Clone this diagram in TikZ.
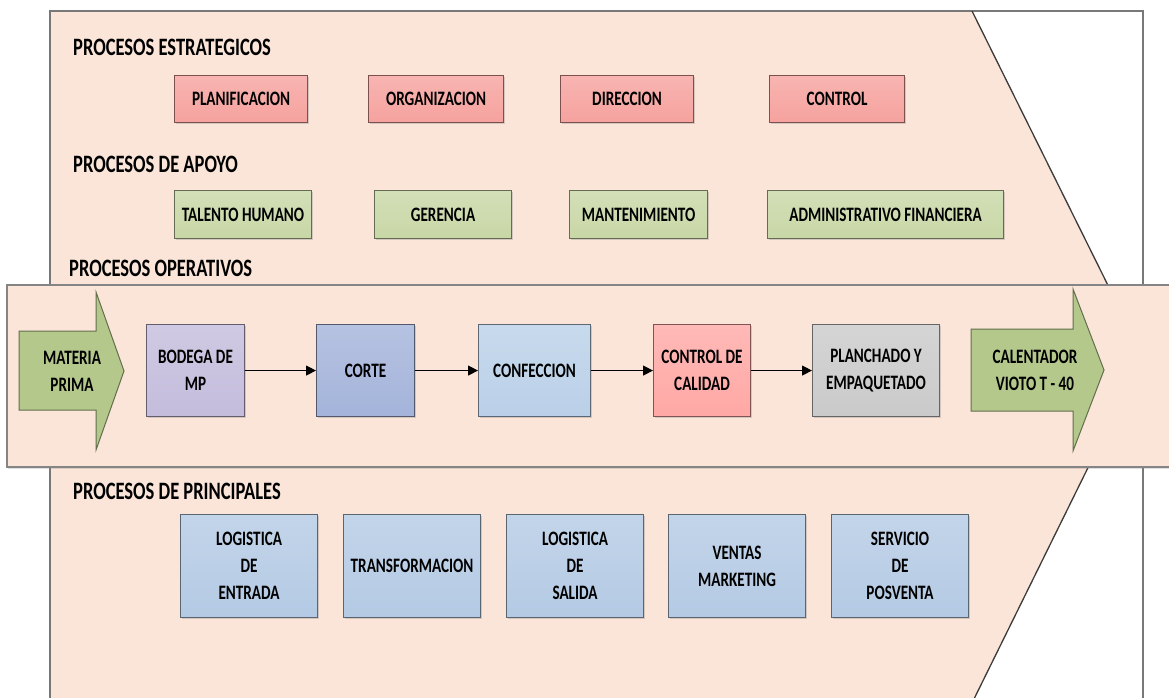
\documentclass[tikz,border=0pt]{standalone}
\usepackage{fontspec}
\setmainfont{Carlito}[FakeStretch=0.74]
\usetikzlibrary{arrows.meta,shadows}

% palette
\definecolor{peach}{RGB}{250,229,216}
\definecolor{framegray}{RGB}{120,120,120}
\definecolor{edgegray}{RGB}{60,60,60}
\definecolor{redbox}{RGB}{246,162,158}
\definecolor{greenbox}{RGB}{200,215,166}
\definecolor{bluebox}{RGB}{180,202,228}
\definecolor{lavbox}{RGB}{196,188,220}
\definecolor{cortebox}{RGB}{164,179,218}
\definecolor{confbox}{RGB}{186,208,232}
\definecolor{calbox}{RGB}{255,168,165}
\definecolor{graybox}{RGB}{202,202,202}
\definecolor{arrowgreen}{RGB}{180,200,140}

\newcommand{\headfont}{\fontsize{25}{28}\selectfont\bfseries}
\newcommand{\boxfont}{\fontsize{20.5}{27}\selectfont\bfseries}

\tikzset{
  heading/.style={anchor=west, inner sep=0pt, font=\headfont, text=black},
  procbox/.style={rectangle, anchor=north west, inner sep=0pt, align=center,
    font=\boxfont, text=black, line width=1.1pt,
    draw=#1!50!black, top color=#1!80!white, bottom color=#1,
    drop shadow={shadow xshift=1.2pt, shadow yshift=-1.8pt, opacity=0.3}},
  bigarrow/.style={draw=arrowgreen!55!black, line width=1pt, fill=arrowgreen,
    line join=miter},
  arrowtext/.style={inner sep=0pt, align=center, font=\boxfont, text=black},
  flow/.style={line width=1.3pt, -{Triangle[length=10pt,width=10pt]}},
  frameline/.style={draw=framegray, line width=1.8pt},
  edgeline/.style={draw=edgegray, line width=1.3pt},
  band/.style={draw=framegray!90, line width=1.5pt, fill=peach,
    drop shadow={shadow xshift=1pt, shadow yshift=-2pt, opacity=0.25}}
}

\begin{document}
\begin{tikzpicture}[x=1pt, y=-1pt]
\useasboundingbox (0,0) rectangle (1169,698);
\clip (0,0) rectangle (1169,698);
\fill[white] (0,0) rectangle (1169,698);

% chevron-shaped background and its frame
\fill[peach] (50,11) -- (972,11) -- (1143,356) -- (973,701) -- (50,701) -- cycle;
\draw[frameline] (50,705) -- (50,11) -- (1143,11) -- (1143,705);
\draw[edgeline] (972,11) -- (1143,356) -- (973,701);

% operative band
\draw[band] (7,285) rectangle (1200,467);

% section headings
\node[heading] (hEst) at (73,47) {PROCESOS ESTRATEGICOS};
\node[heading] (hApo) at (73,164) {PROCESOS DE APOYO};
\node[heading] (hOpe) at (69,268) {PROCESOS OPERATIVOS};
\node[heading] (hPri) at (73,491) {PROCESOS DE PRINCIPALES};

% strategic processes
\node[procbox=redbox, minimum width=133pt, minimum height=47pt] (plan) at (174,75) {PLANIFICACION};
\node[procbox=redbox, minimum width=135pt, minimum height=47pt] (org) at (368,75) {ORGANIZACION};
\node[procbox=redbox, minimum width=133pt, minimum height=47pt] (dir) at (560,75) {DIRECCION};
\node[procbox=redbox, minimum width=135pt, minimum height=47pt] (ctl) at (769,75) {CONTROL};

% support processes
\node[procbox=greenbox, minimum width=137pt, minimum height=48pt] (tal) at (174,190) {TALENTO HUMANO};
\node[procbox=greenbox, minimum width=137pt, minimum height=48pt] (ger) at (374,190) {GERENCIA};
\node[procbox=greenbox, minimum width=138pt, minimum height=48pt] (man) at (569,190) {MANTENIMIENTO};
\node[procbox=greenbox, minimum width=236pt, minimum height=48pt] (adm) at (767,190) {ADMINISTRATIVO FINANCIERA};

% input and output arrows of the operative chain
\draw[bigarrow] (19,331) -- (96,331) -- (96,292) -- (124,371) -- (96,450) -- (96,410) -- (19,410) -- cycle;
\node[arrowtext] (mp) at (72,371) {MATERIA\\PRIMA};
\draw[bigarrow] (971,329) -- (1073,329) -- (1073,289) -- (1104,370) -- (1073,451) -- (1073,411) -- (971,411) -- cycle;
\node[arrowtext] (cal) at (1035,370) {CALENTADOR\\VIOTO T - 40};

% operative processes
\node[procbox=lavbox, minimum width=98pt, minimum height=92pt] (bod) at (146,324) {BODEGA DE\\MP};
\node[procbox=cortebox, minimum width=98pt, minimum height=92pt] (cor) at (316,324) {CORTE};
\node[procbox=confbox, minimum width=112pt, minimum height=92pt] (conf) at (478,324) {CONFECCION};
\node[procbox=calbox, minimum width=97pt, minimum height=92pt] (cc) at (653,324) {CONTROL DE\\CALIDAD};
\node[procbox=graybox, minimum width=127pt, minimum height=92pt] (pla) at (812,324) {PLANCHADO Y\\EMPAQUETADO};

\draw[flow] (bod) -- (cor);
\draw[flow] (cor) -- (conf);
\draw[flow] (conf) -- (cc);
\draw[flow] (cc) -- (pla);

% main processes
\node[procbox=bluebox, minimum width=137pt, minimum height=103pt] (le) at (180,514) {LOGISTICA\\DE\\ENTRADA};
\node[procbox=bluebox, minimum width=137pt, minimum height=103pt] (tr) at (343,514) {TRANSFORMACION};
\node[procbox=bluebox, minimum width=137pt, minimum height=103pt] (ls) at (506,514) {LOGISTICA\\DE\\SALIDA};
\node[procbox=bluebox, minimum width=137pt, minimum height=103pt] (vm) at (668,514) {VENTAS\\MARKETING};
\node[procbox=bluebox, minimum width=137pt, minimum height=103pt] (sp) at (831,514) {SERVICIO\\DE\\POSVENTA};
\end{tikzpicture}
\end{document}
